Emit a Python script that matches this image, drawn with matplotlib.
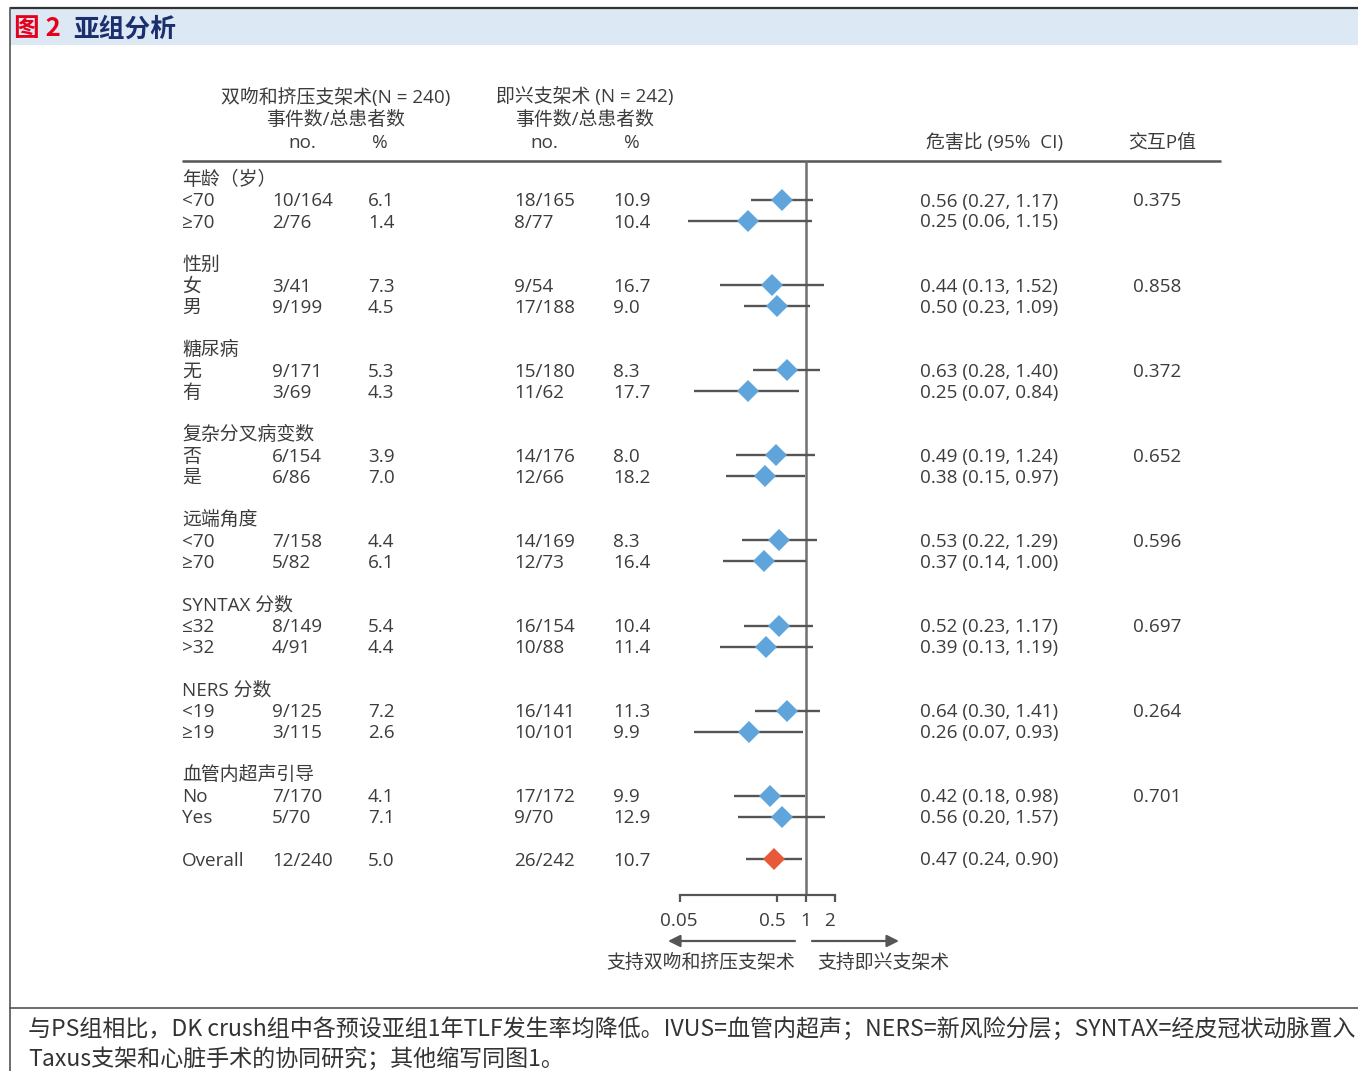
import matplotlib
matplotlib.use("Agg")
import matplotlib.pyplot as plt
import matplotlib.transforms as mtransforms
from matplotlib.patches import Rectangle

plt.rcParams['font.family'] = ['Open Sans', 'Noto Sans CJK SC', 'DejaVu Sans']

# ---------------- data ----------------
group_names = ['年龄（岁）', '性别', '糖尿病', '复杂分叉病变数', '远端角度',
               'SYNTAX 分数', 'NERS 分数', '血管内超声引导']
sub_labels = [['<70', '≥70'], ['女', '男'], ['无', '有'], ['否', '是'],
              ['<70', '≥70'], ['≤32', '>32'], ['<19', '≥19'], ['No', 'Yes']]

dk_events = [10, 2, 3, 9, 9, 3, 6, 6, 7, 5, 8, 4, 9, 3, 7, 5]
dk_totals = [164, 76, 41, 199, 171, 69, 154, 86, 158, 82, 149, 91, 125, 115, 170, 70]
dk_pct = [6.1, 1.4, 7.3, 4.5, 5.3, 4.3, 3.9, 7.0, 4.4, 6.1, 5.4, 4.4, 7.2, 2.6, 4.1, 7.1]

ps_events = [18, 8, 9, 17, 15, 11, 14, 12, 14, 12, 16, 10, 16, 10, 17, 9]
ps_totals = [165, 77, 54, 188, 180, 62, 176, 66, 169, 73, 154, 88, 141, 101, 172, 70]
ps_pct = [10.9, 10.4, 16.7, 9.0, 8.3, 17.7, 8.0, 18.2, 8.3, 16.4, 10.4, 11.4, 11.3, 9.9, 9.9, 12.9]

hr = [0.56, 0.25, 0.44, 0.50, 0.63, 0.25, 0.49, 0.38, 0.53, 0.37, 0.52, 0.39, 0.64, 0.26, 0.42, 0.56]
hr_lo = [0.27, 0.06, 0.13, 0.23, 0.28, 0.07, 0.19, 0.15, 0.22, 0.14, 0.23, 0.13, 0.30, 0.07, 0.18, 0.20]
hr_hi = [1.17, 1.15, 1.52, 1.09, 1.40, 0.84, 1.24, 0.97, 1.29, 1.00, 1.17, 1.19, 1.41, 0.93, 0.98, 1.57]
p_interaction = ['0.375', '0.858', '0.372', '0.652', '0.596', '0.697', '0.264', '0.701']

overall_dk = (12, 240, 5.0)
overall_ps = (26, 242, 10.7)
overall_hr = (0.47, 0.24, 0.90)

x_ticks = [0.05, 0.5, 1, 2]
x_tick_labels = ['0.05', '0.5', '1', '2']

# ---------------- layout ----------------
W, H = 1358, 1071
TXT = '#3c3c3c'
LINE = '#555555'
BLUE = '#5fa5dc'
RED = '#e8593a'
FS = 13.6

fig = plt.figure(figsize=(W / 100, H / 100), dpi=100)
bg = fig.add_axes([0, 0, 1, 1])
bg.set_xlim(0, W)
bg.set_ylim(H, 0)
bg.axis('off')

# frame and title band
bg.add_patch(Rectangle((10, 9), W - 10, 36, facecolor='#dde8f5', edgecolor='none'))
bg.plot([10, W], [8, 8], color='#333333', lw=1.6, solid_capstyle='butt')
bg.plot([10, 10], [8, H], color='#555555', lw=1.2)
bg.plot([10, W], [1008, 1008], color='#555555', lw=1.2)
bg.text(14, 29, '图 2', color='#e5001c', fontsize=18.5, fontweight='bold',
        family=['Noto Sans CJK SC'], va='center', ha='left')
bg.text(73, 29, '亚组分析', color='#1b2f6e', fontsize=18.5, fontweight='bold',
        family=['Noto Sans CJK SC'], va='center', ha='left')

# caption
cap_kw = dict(color='#333333', fontsize=16.6, family=['Noto Sans CJK SC'], va='center', ha='left')
bg.text(28, 1029, '与PS组相比，DK crush组中各预设亚组1年TLF发生率均降低。IVUS=血管内超声；'
        'NERS=新风险分层；SYNTAX=经皮冠状动脉置入', **cap_kw)
bg.text(28, 1059, 'Taxus支架和心脏手术的协同研究；其他缩写同图1。', **cap_kw)

# column headers
hk = dict(color=TXT, fontsize=FS, va='center', ha='center')
bg.text(336, 97, '双吻和挤压支架术(N = 240)', **hk)
bg.text(336, 120, '事件数/总患者数', **hk)
bg.text(302, 143, 'no.', **hk)
bg.text(380, 143, '%', **hk)
bg.text(585, 97, '即兴支架术 (N = 242)', **hk)
bg.text(585, 120, '事件数/总患者数', **hk)
bg.text(544, 143, 'no.', **hk)
bg.text(632, 143, '%', **hk)
bg.text(995, 143, '危害比 (95%  CI)', **hk)
bg.text(1162, 143, '交互P值', **hk)
bg.plot([182, 1221], [161, 161], color=LINE, lw=1.8, solid_capstyle='butt')

# column x positions
X_LAB, X_DKN, X_DKP, X_PSN, X_PSP, X_HR, X_P = 182, 272, 368, 514, 613, 989, 1133
G0, GSTEP, R1, R2 = 177, 85.1, 23, 44
Y_OVERALL = 859
TY = 1.5   # text baseline nudge relative to the row centre

# forest panel on a log scale
px_per_dec = 96.75
x_ref = 806
fx_left, fx_right, fx_top, fx_bot = 600, 920, 150, 1000
fx = fig.add_axes([fx_left / W, 1 - fx_bot / H, (fx_right - fx_left) / W, (fx_bot - fx_top) / H])
fx.set_xscale('log')
fx.set_xlim(10 ** ((fx_left - x_ref) / px_per_dec), 10 ** ((fx_right - x_ref) / px_per_dec))
fx.set_ylim(fx_bot, fx_top)
fx.axis('off')
fx.patch.set_alpha(0)

tk = dict(color=TXT, fontsize=FS, va='center')
row_y = []
for g, name in enumerate(group_names):
    yg = G0 + GSTEP * g
    bg.text(X_LAB, yg + 2.5, name, ha='left', **tk)
    for j in range(2):
        i = 2 * g + j
        y = yg + (R1 if j == 0 else R2)
        row_y.append(y)
        ty = y + TY
        bg.text(X_LAB, ty, sub_labels[g][j], ha='left', **tk)
        bg.text(X_DKN, ty, f'{dk_events[i]}/{dk_totals[i]}', ha='left', **tk)
        bg.text(X_DKP, ty, f'{dk_pct[i]:.1f}', ha='left', **tk)
        bg.text(X_PSN, ty, f'{ps_events[i]}/{ps_totals[i]}', ha='left', **tk)
        bg.text(X_PSP, ty, f'{ps_pct[i]:.1f}', ha='left', **tk)
        bg.text(X_HR, ty, f'{hr[i]:.2f} ({hr_lo[i]:.2f}, {hr_hi[i]:.2f})', ha='center', **tk)
    bg.text(X_P, yg + R1 + TY, p_interaction[g], ha='left', **tk)

# overall row
ty = Y_OVERALL + TY
bg.text(X_LAB, ty, 'Overall', ha='left', **tk)
bg.text(X_DKN, ty, f'{overall_dk[0]}/{overall_dk[1]}', ha='left', **tk)
bg.text(X_DKP, ty, f'{overall_dk[2]:.1f}', ha='left', **tk)
bg.text(X_PSN, ty, f'{overall_ps[0]}/{overall_ps[1]}', ha='left', **tk)
bg.text(X_PSP, ty, f'{overall_ps[2]:.1f}', ha='left', **tk)
bg.text(X_HR, ty, f'{overall_hr[0]:.2f} ({overall_hr[1]:.2f}, {overall_hr[2]:.2f})',
        ha='center', **tk)

# reference line at HR = 1
AX_Y = 895
fx.plot([1, 1], [161, AX_Y], color='#707070', lw=1.8, solid_capstyle='butt', zorder=1)

# confidence intervals and point estimates
MS = 11.5
for i, y in enumerate(row_y):
    fx.plot([hr_lo[i], hr_hi[i]], [y, y], color=LINE, lw=1.7, solid_capstyle='butt', zorder=2)
    fx.plot(hr[i], y, marker='D', ms=MS, color=BLUE, mew=0, zorder=3)
fx.plot([overall_hr[1], overall_hr[2]], [Y_OVERALL, Y_OVERALL], color=LINE, lw=1.7,
        solid_capstyle='butt', zorder=2)
fx.plot(overall_hr[0], Y_OVERALL, marker='D', ms=MS, color=RED, mew=0, zorder=3)

# x axis with ticks hanging below the line
fx.plot([x_ticks[0], x_ticks[-1]], [AX_Y, AX_Y], color=LINE, lw=1.6, solid_capstyle='projecting')
label_nudge_px = [-1, -5, 0, -6]
for t, lab, dx in zip(x_ticks, x_tick_labels, label_nudge_px):
    fx.plot([t, t], [AX_Y, AX_Y + 7], color=LINE, lw=1.6, solid_capstyle='butt')
    trans = mtransforms.offset_copy(fx.transData, fig=fig, x=dx * 72 / 100, y=0, units='points')
    fx.text(t, 921, lab, color=TXT, fontsize=FS, ha='center', va='center', transform=trans)

# direction arrows
arr = dict(arrowstyle='-|>', color=LINE, lw=1.6, mutation_scale=18, shrinkA=0, shrinkB=0)
bg.annotate('', xy=(668, 941), xytext=(795, 941), arrowprops=arr)
bg.annotate('', xy=(899, 941), xytext=(812, 941), arrowprops=arr)
bg.text(795, 963, '支持双吻和挤压支架术', ha='right', **tk)
bg.text(817, 963, '支持即兴支架术', ha='left', **tk)

fig.savefig('out.png', dpi=100)
